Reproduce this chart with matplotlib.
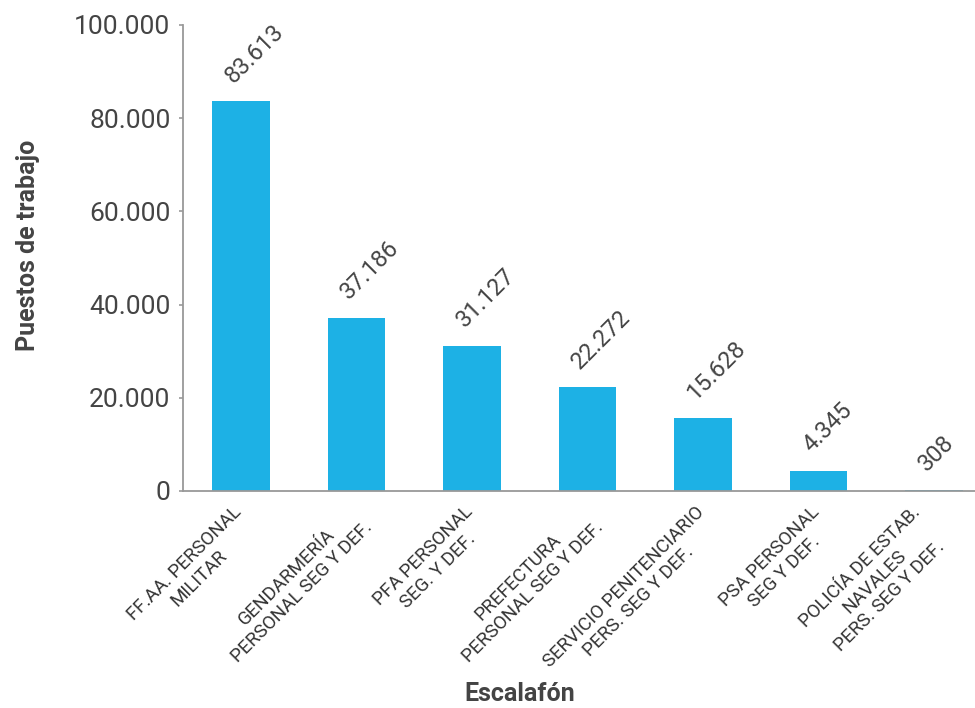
import matplotlib
matplotlib.use('Agg')
import matplotlib.pyplot as plt
from matplotlib.ticker import FuncFormatter
import numpy as np

plt.rcParams['font.family'] = ['Roboto', 'DejaVu Sans']

# Datos
escalafones = [
    'FF.AA. PERSONAL\nMILITAR',
    'GENDARMERÍA\nPERSONAL SEG Y DEF.',
    'PFA PERSONAL\nSEG. Y DEF.',
    'PREFECTURA\nPERSONAL SEG Y DEF.',
    'SERVICIO PENITENCIARIO\nPERS. SEG Y DEF.',
    'PSA PERSONAL\nSEG Y DEF.',
    'POLICÍA DE ESTAB.\nNAVALES\nPERS. SEG Y DEF.',
]
puestos = [83613, 37186, 31127, 22272, 15628, 4345, 308]
yticks = [0, 20000, 40000, 60000, 80000, 100000]


def miles(v, pos=None):
    return f'{int(v):,}'.replace(',', '.')


fig = plt.figure(figsize=(9.75, 7.08), dpi=100)
ax = fig.add_axes([183 / 975, 1 - 491 / 708, 792 / 975, 466 / 708])

x = np.arange(len(puestos))
ax.bar(x, puestos, width=0.5, color='#1DB1E5', zorder=2)

# Etiquetas de valores
for xi, v in zip(x, puestos):
    ax.annotate(miles(v), (xi, v), xytext=(-4, 14), textcoords='offset pixels',
                rotation=45, rotation_mode='anchor', ha='left', va='bottom',
                fontsize=17, color='#444444')

# Etiquetas del eje x (rotadas, alineadas arriba a la derecha)
for xi, lab in zip(x, escalafones):
    ax.annotate(lab, (xi, 0), xycoords=ax.get_xaxis_transform(),
                xytext=(19, -12), textcoords='offset pixels',
                rotation=45, ha='right', va='top', multialignment='center',
                fontsize=13.5, color='#333333', annotation_clip=False)

ax.set_xlim(-0.502, 6.355)
ax.set_ylim(0, 100000)
ax.set_yticks(yticks)
ax.yaxis.set_major_formatter(FuncFormatter(miles))
ax.set_xticks(x)
ax.set_xticklabels([])

ax.tick_params(axis='x', length=0)
ax.tick_params(axis='y', length=3, width=1.2, color='#999999', pad=6,
               labelsize=19, labelcolor='#444444')

for s in ['top', 'right']:
    ax.spines[s].set_visible(False)
for s in ['left', 'bottom']:
    ax.spines[s].set_color('#999999')
    ax.spines[s].set_linewidth(1.3)

ax.set_ylabel('Puestos de trabajo', fontsize=18, fontweight='bold', color='#444444')
ax.set_xlabel('Escalafón', fontsize=18, fontweight='bold', color='#444444')
ax.yaxis.set_label_coords(-0.1806, 0.528)
ax.xaxis.set_label_coords(0.4255, -0.41)

plt.savefig('out.png', dpi=100)
plt.close()
